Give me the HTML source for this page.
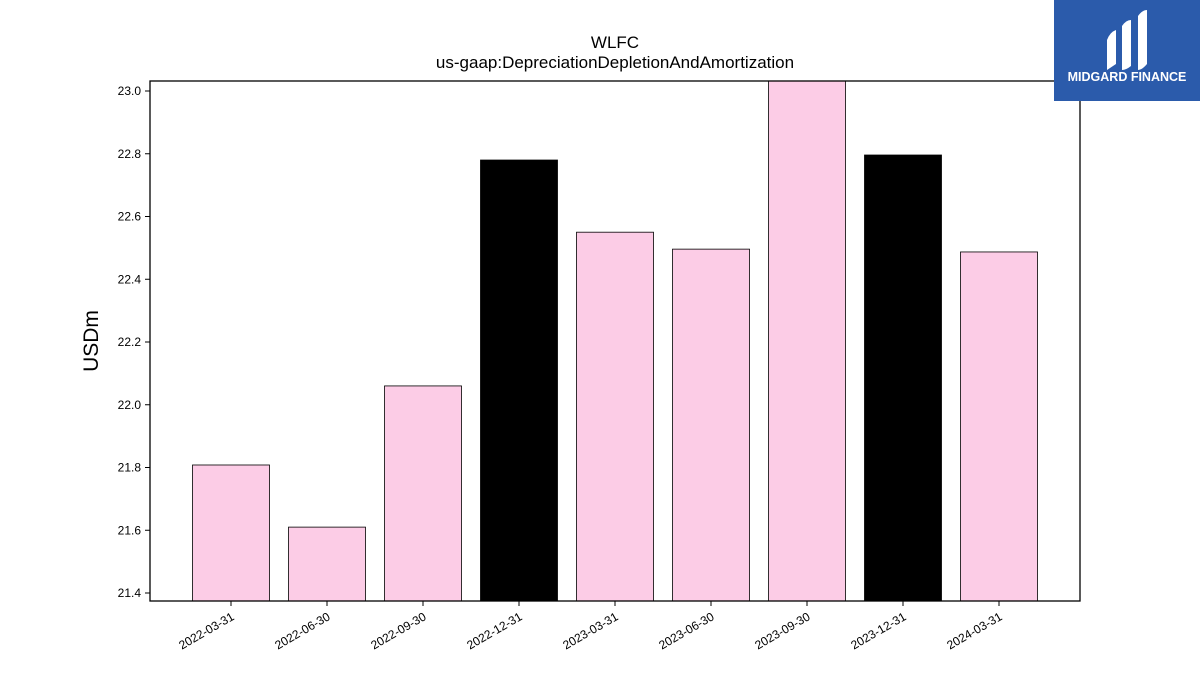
<!DOCTYPE html>
<html><head><meta charset="utf-8"><style>
body{margin:0;background:#fff;}
svg text{font-family:"Liberation Sans","DejaVu Sans",sans-serif;}
</style></head><body>
<svg id="chart" width="1200" height="675" xmlns="http://www.w3.org/2000/svg">
<rect width="1200" height="675" fill="#fff"/>
<text x="615" y="48" text-anchor="middle" font-size="17">WLFC</text>
<text x="615" y="68" text-anchor="middle" font-size="17">us-gaap:DepreciationDepletionAndAmortization</text>
<text transform="translate(98,341) rotate(-90)" text-anchor="middle" font-size="21">USDm</text>
<g id="bars"></g>
<g id="yticks"></g>
<g id="xticks"></g>
<rect x="150" y="81" width="930" height="520" fill="none" stroke="#000" stroke-width="1.3"/>
<g>
<rect x="1054" y="0" width="146" height="101" fill="#2b5bab"/>
<path d="M1107 40 Q1110 32 1116 30 L1116 64 Q1110 68 1107 70 Z" fill="#fff"/>
<path d="M1122 26 Q1126 20 1131 20 L1131 66 Q1126 70 1122 70 Z" fill="#fff"/>
<path d="M1138 16 Q1142 10 1147 10 L1147 64 Q1142 70 1138 70 Z" fill="#fff"/>
<text x="1127" y="81" text-anchor="middle" font-size="12.5" font-weight="bold" fill="#fff">MIDGARD FINANCE</text>
</g>
</svg>
<script>
const categories=["2022-03-31","2022-06-30","2022-09-30","2022-12-31","2023-03-31","2023-06-30","2023-09-30","2023-12-31","2024-03-31"];
const values=[21.808,21.61,22.06,22.78,22.55,22.496,23.1,22.796,22.487];
const highlight=[false,false,false,true,false,false,false,true,false];
const yTicks=[21.4,21.6,21.8,22.0,22.2,22.4,22.6,22.8,23.0];
const NS="http://www.w3.org/2000/svg";
const top0=81,bot0=601,left0=150,right0=1080;
const yMin=21.3745,yMax=23.0319;
function y(v){return bot0-(v-yMin)/(yMax-yMin)*(bot0-top0);}
function x(i){return 231+i*96;}
const bw=77;
const bars=document.getElementById('bars');
values.forEach((v,i)=>{
 const yt=Math.max(top0,y(v));
 const r=document.createElementNS(NS,'rect');
 r.setAttribute('x',x(i)-bw/2);r.setAttribute('y',yt);
 r.setAttribute('width',bw);r.setAttribute('height',bot0-yt);
 r.setAttribute('fill',highlight[i]?'#000':'#fccce6');
 r.setAttribute('stroke','#000');r.setAttribute('stroke-width','0.8');
 
 
 bars.appendChild(r);
});
const yt=document.getElementById('yticks');
yTicks.forEach(t=>{
 const l=document.createElementNS(NS,'line');
 l.setAttribute('x1',left0-5);l.setAttribute('x2',left0);l.setAttribute('y1',y(t));l.setAttribute('y2',y(t));
 l.setAttribute('stroke','#000');
 
 
 yt.appendChild(l);
 const tx=document.createElementNS(NS,'text');
 tx.setAttribute('x',left0-9);tx.setAttribute('y',y(t)+4);tx.setAttribute('text-anchor','end');tx.setAttribute('font-size','12');
 tx.textContent=t.toFixed(1);
 
 
 yt.appendChild(tx);
});
const xt=document.getElementById('xticks');
categories.forEach((c,i)=>{
 const l=document.createElementNS(NS,'line');
 l.setAttribute('x1',x(i));l.setAttribute('x2',x(i));l.setAttribute('y1',bot0);l.setAttribute('y2',bot0+5);
 l.setAttribute('stroke','#000');
 
 
 xt.appendChild(l);
 const tx=document.createElementNS(NS,'text');
 tx.setAttribute('transform','translate('+(x(i)+4)+','+(bot0+18)+') rotate(-30)');
 tx.setAttribute('text-anchor','end');tx.setAttribute('font-size','12');
 tx.textContent=c;
 
 
 xt.appendChild(tx);
});
</script>
</body></html>
